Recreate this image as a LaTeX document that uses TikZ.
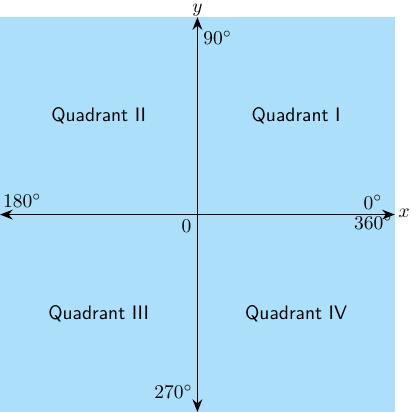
\documentclass[tikz,border=0pt]{standalone}
\usepackage{xcolor}
\usepackage{tikz}
\usetikzlibrary{arrows.meta}
\usetikzlibrary{positioning}
\usepackage{amsmath}
\definecolor{fondo}{RGB}{172,223,250}

\begin{document}
\begin{tikzpicture}[
    eje/.style={line width=0.9pt, {Stealth[length=6.5pt,width=5pt]}-{Stealth[length=6.5pt,width=5pt]}},
    etiqueta/.style={inner sep=0pt},
    cuadrante/.style={font=\sffamily}
]
    % Marco
    \useasboundingbox (-3.56,-3.56) rectangle (3.85,3.87);
    \fill[fondo] (-3.56,-3.56) rectangle (3.56,3.56);

    % Extremos de los ejes
    \coordinate (origen) at (0,0);
    \coordinate (xmin) at (-3.56,0);
    \coordinate (xmax) at (3.56,0);
    \coordinate (ymin) at (0,-3.56);
    \coordinate (ymax) at (0,3.56);

    % Ejes
    \draw[eje] (xmin) -- (xmax);
    \draw[eje] (ymin) -- (ymax);

    % Nombres de los ejes
    \node[etiqueta, anchor=base west] (ejex) at ([shift={(0.06,-0.05)}]xmax) {$x$};
    \node[etiqueta, anchor=base] (ejey) at ([yshift=0.08cm]ymax) {$y$};

    % Angulos
    \node[etiqueta, anchor=base west] (a90) at ([shift={(0.10,-0.49)}]ymax) {$90^\circ$};
    \node[etiqueta, anchor=base west] (a180) at ([shift={(0.05,0.12)}]xmin) {$180^\circ$};
    \node[etiqueta, anchor=base east] (a0) at ([shift={(-0.22,0.10)}]xmax) {$0^\circ$};
    \node[etiqueta, anchor=base east] (a360) at ([shift={(-0.04,-0.26)}]xmax) {$360^\circ$};
    \node[etiqueta, anchor=base east] (a270) at ([shift={(-0.08,0.25)}]ymin) {$270^\circ$};
    \node[etiqueta, anchor=base east] (cero) at ([shift={(-0.10,-0.32)}]origen) {$0$};

    % Cuadrantes
    \node[cuadrante] (q1) at (1.78,1.78) {Quadrant I};
    \node[cuadrante] (q2) at (-1.78,1.78) {Quadrant II};
    \node[cuadrante] (q3) at (-1.78,-1.78) {Quadrant III};
    \node[cuadrante] (q4) at (1.78,-1.78) {Quadrant IV};
\end{tikzpicture}
\end{document}
